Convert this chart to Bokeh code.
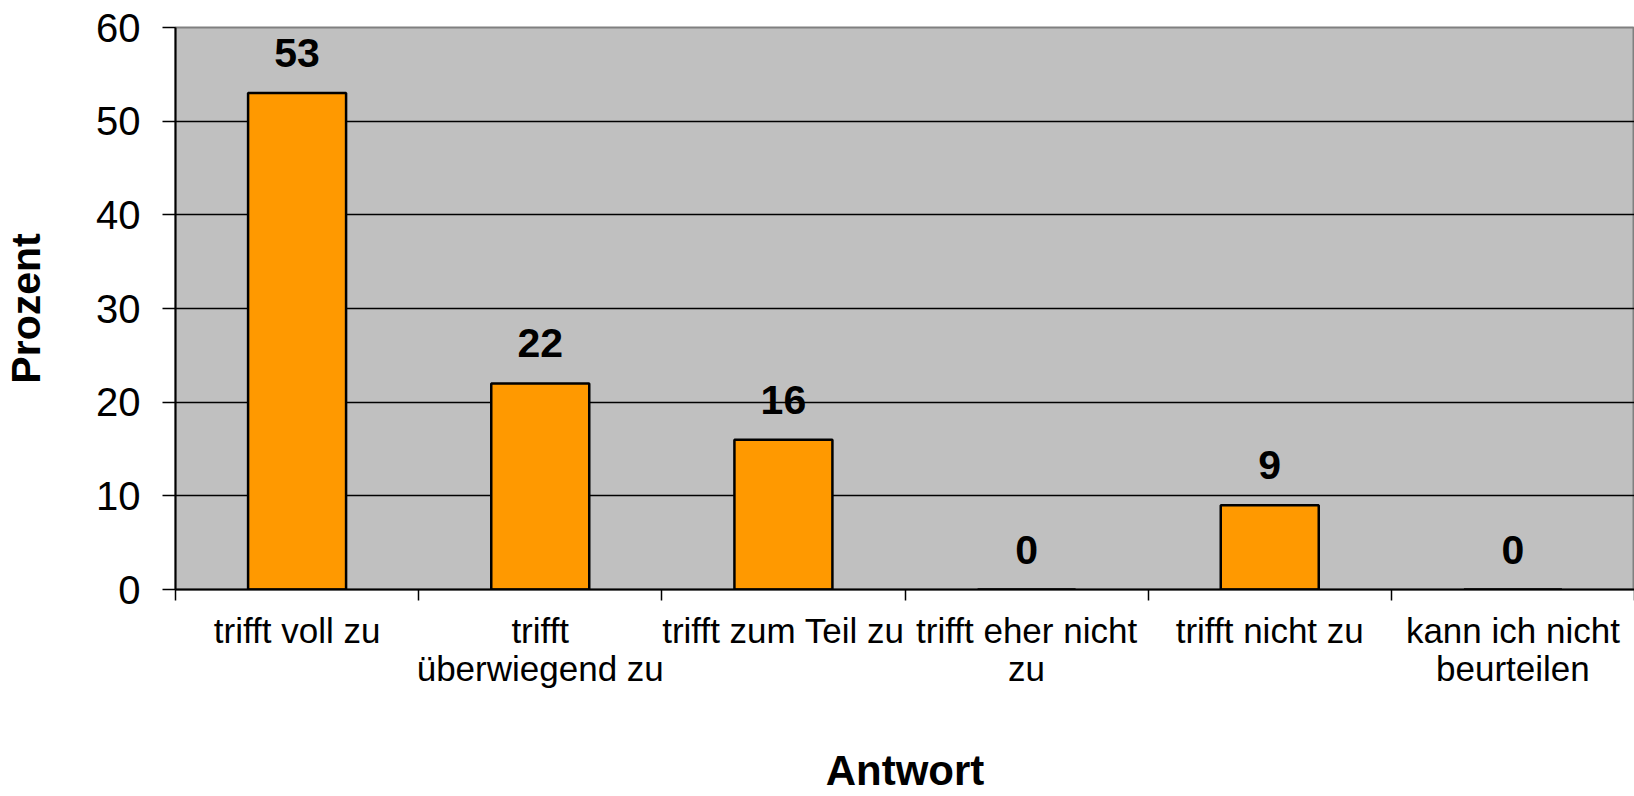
from bokeh.plotting import figure
from bokeh.models import ColumnDataSource, FixedTicker, Range1d
from bokeh.embed import file_html
from bokeh.resources import INLINE
from bokeh.core.properties import value

categories = ["trifft voll zu", "trifft\nüberwiegend zu", "trifft zum Teil zu",
              "trifft eher nicht\nzu", "trifft nicht zu", "kann ich nicht\nbeurteilen"]
values = [53, 22, 16, 0, 9, 0]
labels = ["53", "22", "16", "0", "9", "0"]
y_ticks = [0, 10, 20, 30, 40, 50, 60]

FONT = "Liberation Sans"
xs = [i + 0.5 for i in range(len(categories))]
src = ColumnDataSource(dict(x=xs, top=values, lab=labels))

p = figure(width=1634, height=796, output_backend="svg", toolbar_location=None,
           x_range=Range1d(0, len(categories)), y_range=Range1d(0, 60),
           min_border_left=170, min_border_top=27, min_border_right=0, min_border_bottom=10)
p.background_fill_color = "#C0C0C0"
p.border_fill_color = "white"
p.outline_line_color = "#808080"
p.outline_line_width = 2

p.vbar(x="x", top="top", width=0.403, source=src, fill_color="#FF9900",
       line_color="black", line_width=2.5)
p.text(x="x", y="top", text="lab", source=src, text_align="center", text_baseline="bottom",
       y_offset=-26, text_font=value(FONT), text_font_size="41px", text_font_style="bold",
       text_color="black")

# x axis
xa = p.xaxis[0]
xa.ticker = FixedTicker(ticks=xs, minor_ticks=list(range(len(categories) + 1)))
xa.major_label_overrides = {x: c for x, c in zip(xs, categories)}
xa.major_tick_out = 0
xa.major_tick_in = 0
xa.minor_tick_out = 11
xa.minor_tick_in = 0
xa.minor_tick_line_color = "black"
xa.minor_tick_line_width = 1.5
xa.axis_line_color = "black"
xa.axis_line_width = 2
xa.major_label_text_font = FONT
xa.major_label_text_font_size = "35px"
xa.major_label_text_line_height = 0.98
xa.major_label_text_color = "black"
xa.major_label_standoff = 10
xa.axis_label = "Antwort"
xa.axis_label_text_font = FONT
xa.axis_label_text_font_size = "42px"
xa.axis_label_text_font_style = "bold"
xa.axis_label_text_color = "black"
xa.axis_label_standoff = 56

# y axis
ya = p.yaxis[0]
ya.ticker = FixedTicker(ticks=y_ticks)
ya.major_tick_out = 13
ya.major_tick_in = 0
ya.minor_tick_out = 0
ya.minor_tick_in = 0
ya.major_tick_line_color = "black"
ya.major_tick_line_width = 1.5
ya.axis_line_color = "black"
ya.axis_line_width = 2
ya.major_label_text_font = FONT
ya.major_label_text_font_size = "40px"
ya.major_label_text_color = "black"
ya.major_label_standoff = 22
ya.axis_label = "Prozent"
ya.axis_label_text_font = FONT
ya.axis_label_text_font_size = "41px"
ya.axis_label_text_font_style = "bold"
ya.axis_label_text_color = "black"
ya.axis_label_standoff = 44

p.xgrid.grid_line_color = None
p.ygrid.ticker = FixedTicker(ticks=y_ticks[1:-1])
p.ygrid.grid_line_color = "black"
p.ygrid.grid_line_width = 1.3

open("out.html", "w").write(file_html(p, INLINE))
